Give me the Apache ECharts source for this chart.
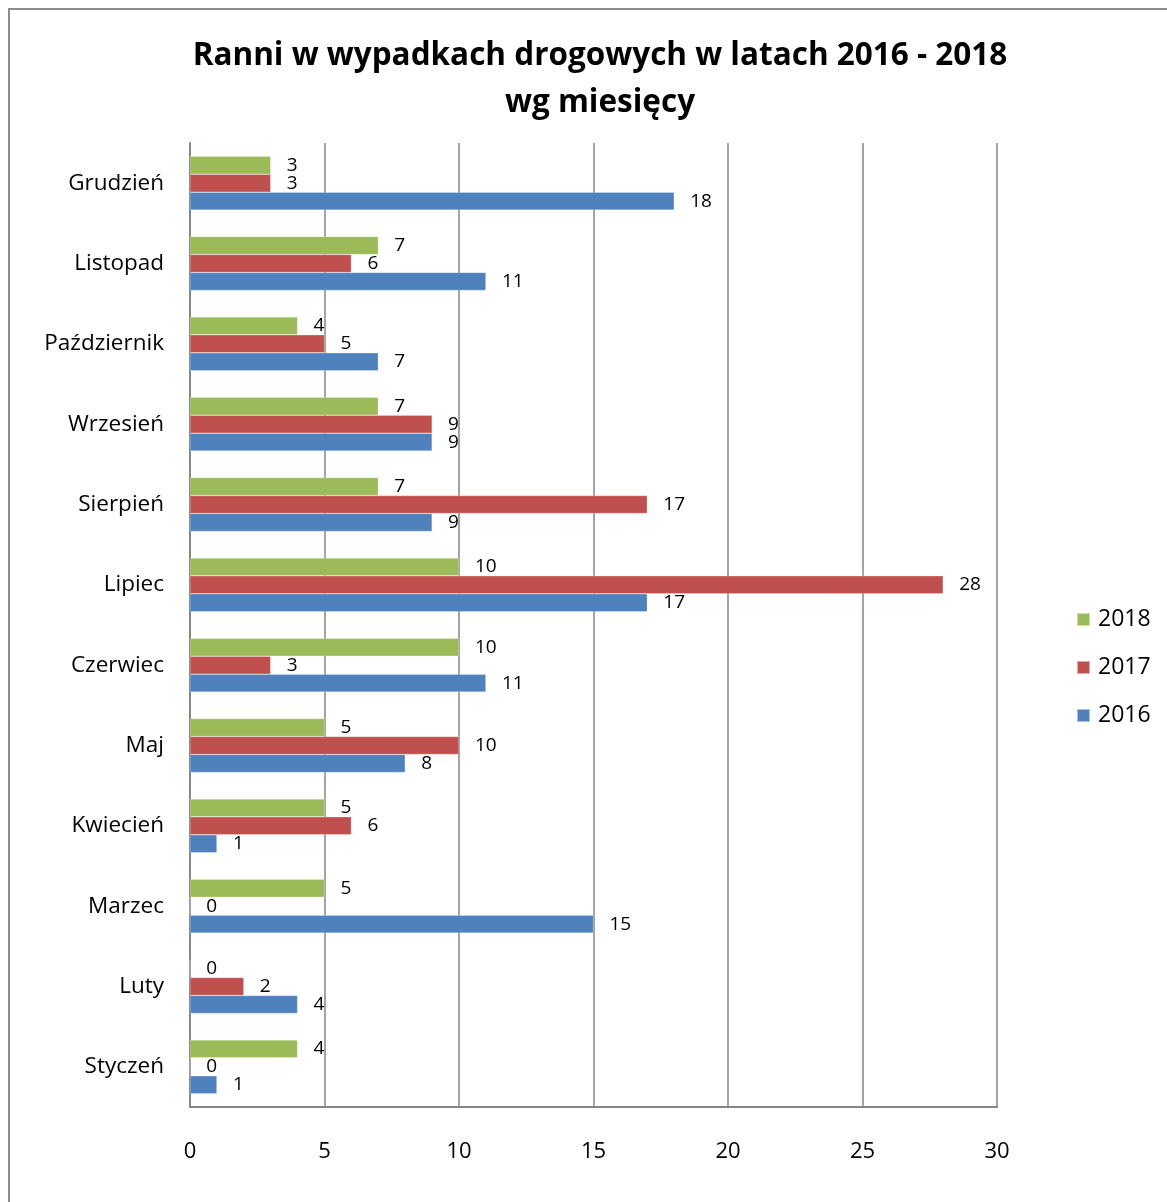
<!DOCTYPE html>
<html>
<head>
<meta charset="utf-8">
<script src="https://cdn.jsdelivr.net/npm/echarts@6/dist/echarts.min.js"></script>
<style>
html,body{margin:0;padding:0;background:#fff;}
#chart{width:1167px;height:1202px;}
</style>
</head>
<body>
<div id="chart"></div>
<script>
const categories = ['Styczeń','Luty','Marzec','Kwiecień','Maj','Czerwiec','Lipiec','Sierpień','Wrzesień','Październik','Listopad','Grudzień'];
const values2016 = [1, 4, 15, 1, 8, 11, 17, 9, 9, 7, 11, 18];
const values2017 = [0, 2, 0, 6, 10, 3, 28, 17, 9, 5, 6, 3];
const values2018 = [4, 0, 5, 5, 5, 10, 10, 7, 7, 4, 7, 3];
const xTicks = [0, 5, 10, 15, 20, 25, 30];

const chart = echarts.init(document.getElementById('chart'));
const labelStyle = {show:true, position:'right', distance:16, color:'#000', fontSize:19, fontFamily:'Open Sans'};
function mk(name, data, color){
  return {name:name, type:'bar', data:data, barCategoryGap:'33%', barGap:'0%',
    itemStyle:{color:color, borderColor:'rgba(255,255,255,0.5)', borderWidth:0.5},
    label:labelStyle, silent:true};
}
chart.setOption({
  animation:false,
  title:{text:'Ranni w wypadkach drogowych w latach 2016 - 2018\nwg miesięcy', left:595, textAlign:'center', top:28,
    textStyle:{fontFamily:'Open Sans', fontWeight:'bold', fontSize:31.5, lineHeight:47, color:'#000'}},
  graphic:[{type:'rect', shape:{x:9, y:9, width:1200, height:1250}, style:{fill:'none', stroke:'#8c8c8c', lineWidth:2}, silent:true}],
  legend:{data:['2018','2017','2016'], orient:'vertical', left:1071, top:603, itemWidth:13, itemHeight:13, itemGap:25,
    icon:'rect', textStyle:{fontFamily:'Open Sans', fontSize:23, color:'#000', padding:[0,0,0,3]}},
  grid:{left:190, right:170, top:143, bottom:95, containLabel:false},
  xAxis:{type:'value', min:0, max:30, interval:5,
    axisLine:{show:true, lineStyle:{color:'#868686', width:2}},
    axisTick:{show:false},
    axisLabel:{margin:34, fontFamily:'Open Sans', fontSize:22, color:'#000', formatter:function(v){return xTicks.indexOf(v)>=0? String(v):'';}},
    splitLine:{show:true, lineStyle:{color:'#868686', width:1.5}}},
  yAxis:{type:'category', data:categories,
    axisLine:{show:true, lineStyle:{color:'#868686', width:2}},
    axisTick:{show:false},
    axisLabel:{margin:26, fontFamily:'Open Sans', fontSize:22.5, color:'#000'},
    splitLine:{show:false}},
  series:[mk('2018', values2018, '#9BBB59'), mk('2017', values2017, '#C0504D'), mk('2016', values2016, '#4F81BD')]
});
</script>
</body>
</html>
